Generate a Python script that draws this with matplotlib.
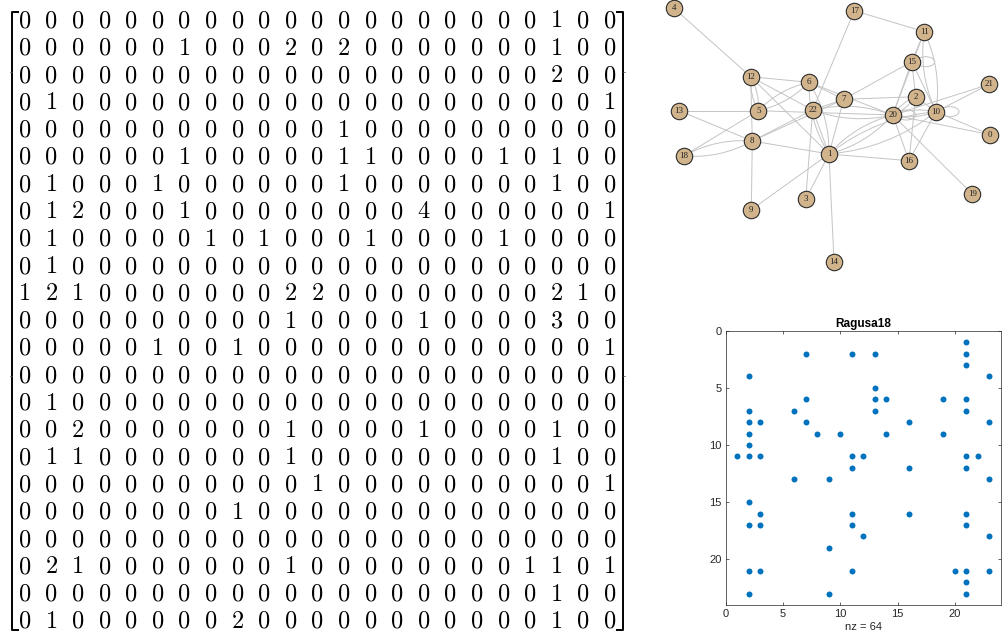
import numpy as np
import matplotlib.pyplot as plt
from matplotlib.patches import Ellipse, FancyArrowPatch

# Ragusa18 adjacency matrix (23 x 23, weighted, directed)
adjacency = [
    [0, 0, 0, 0, 0, 0, 0, 0, 0, 0, 0, 0, 0, 0, 0, 0, 0, 0, 0, 0, 1, 0, 0],
    [0, 0, 0, 0, 0, 0, 1, 0, 0, 0, 2, 0, 2, 0, 0, 0, 0, 0, 0, 0, 1, 0, 0],
    [0, 0, 0, 0, 0, 0, 0, 0, 0, 0, 0, 0, 0, 0, 0, 0, 0, 0, 0, 0, 2, 0, 0],
    [0, 1, 0, 0, 0, 0, 0, 0, 0, 0, 0, 0, 0, 0, 0, 0, 0, 0, 0, 0, 0, 0, 1],
    [0, 0, 0, 0, 0, 0, 0, 0, 0, 0, 0, 0, 1, 0, 0, 0, 0, 0, 0, 0, 0, 0, 0],
    [0, 0, 0, 0, 0, 0, 1, 0, 0, 0, 0, 0, 1, 1, 0, 0, 0, 0, 1, 0, 1, 0, 0],
    [0, 1, 0, 0, 0, 1, 0, 0, 0, 0, 0, 0, 1, 0, 0, 0, 0, 0, 0, 0, 1, 0, 0],
    [0, 1, 2, 0, 0, 0, 1, 0, 0, 0, 0, 0, 0, 0, 0, 4, 0, 0, 0, 0, 0, 0, 1],
    [0, 1, 0, 0, 0, 0, 0, 1, 0, 1, 0, 0, 0, 1, 0, 0, 0, 0, 1, 0, 0, 0, 0],
    [0, 1, 0, 0, 0, 0, 0, 0, 0, 0, 0, 0, 0, 0, 0, 0, 0, 0, 0, 0, 0, 0, 0],
    [1, 2, 1, 0, 0, 0, 0, 0, 0, 0, 2, 2, 0, 0, 0, 0, 0, 0, 0, 0, 2, 1, 0],
    [0, 0, 0, 0, 0, 0, 0, 0, 0, 0, 1, 0, 0, 0, 0, 1, 0, 0, 0, 0, 3, 0, 0],
    [0, 0, 0, 0, 0, 1, 0, 0, 1, 0, 0, 0, 0, 0, 0, 0, 0, 0, 0, 0, 0, 0, 1],
    [0, 0, 0, 0, 0, 0, 0, 0, 0, 0, 0, 0, 0, 0, 0, 0, 0, 0, 0, 0, 0, 0, 0],
    [0, 1, 0, 0, 0, 0, 0, 0, 0, 0, 0, 0, 0, 0, 0, 0, 0, 0, 0, 0, 0, 0, 0],
    [0, 0, 2, 0, 0, 0, 0, 0, 0, 0, 1, 0, 0, 0, 0, 1, 0, 0, 0, 0, 1, 0, 0],
    [0, 1, 1, 0, 0, 0, 0, 0, 0, 0, 1, 0, 0, 0, 0, 0, 0, 0, 0, 0, 1, 0, 0],
    [0, 0, 0, 0, 0, 0, 0, 0, 0, 0, 0, 1, 0, 0, 0, 0, 0, 0, 0, 0, 0, 0, 1],
    [0, 0, 0, 0, 0, 0, 0, 0, 1, 0, 0, 0, 0, 0, 0, 0, 0, 0, 0, 0, 0, 0, 0],
    [0, 0, 0, 0, 0, 0, 0, 0, 0, 0, 0, 0, 0, 0, 0, 0, 0, 0, 0, 0, 0, 0, 0],
    [0, 2, 1, 0, 0, 0, 0, 0, 0, 0, 1, 0, 0, 0, 0, 0, 0, 0, 0, 1, 1, 0, 1],
    [0, 0, 0, 0, 0, 0, 0, 0, 0, 0, 0, 0, 0, 0, 0, 0, 0, 0, 0, 0, 1, 0, 0],
    [0, 1, 0, 0, 0, 0, 0, 0, 2, 0, 0, 0, 0, 0, 0, 0, 0, 0, 0, 0, 1, 0, 0],
]

# graph layout, one (x, y) per vertex 0..22
node_x = [330.3, 169.0, 255.7, 145.7, 14.0, 98.3, 149.0, 183.7, 92.3, 91.3, 276.0, 264.3,
          90.7, 19.0, 174.0, 251.7, 249.0, 194.3, 23.7, 312.3, 232.7, 329.3, 152.7]
node_y = [134.7, 154.0, 96.7, 199.3, 8.3, 110.7, 82.3, 99.3, 141.0, 209.7, 111.7, 31.7,
          76.7, 110.7, 261.7, 61.7, 160.7, 10.7, 156.0, 194.0, 115.0, 84.3, 110.0]

A = np.array(adjacency)
n = A.shape[0]
W, H = 1003, 641

fig = plt.figure(figsize=(W / 100, H / 100), dpi=100)


def px_axes(x0, y0, x1, y1):
    return fig.add_axes([x0 / W, 1 - y1 / H, (x1 - x0) / W, (y1 - y0) / H])


# --- matrix typeset as a bracketed array ---
ax_m = px_axes(11.7, 5.85, 623.3, 633.65)
ax_m.set_xlim(0.5, n + 0.5)
ax_m.set_ylim(n + 0.5, 0.5)
ax_m.axis("off")
for r in range(n):
    for c in range(n):
        ax_m.text(c + 1, r + 1.29, str(A[r, c]), ha="center", va="baseline",
                  fontsize=17.5, family="cmr10", color="black")

top, bot = 0.72, 23.36
lx, rx, hook = 0.51, 23.49, 0.27
bk = dict(color="black", lw=1.4, clip_on=False, solid_capstyle="butt")
ax_m.plot([lx + hook, lx, lx, lx + hook], [top, top, bot, bot], **bk)
ax_m.plot([rx - hook, rx, rx, rx - hook], [top, top, bot, bot], **bk)
for yy in (2.92, 14.05):
    ax_m.plot([lx - 0.09, lx], [yy, yy], color="#555555", lw=0.5, clip_on=False)
    ax_m.plot([rx, rx + 0.09], [yy, yy], color="#555555", lw=0.5, clip_on=False)

# --- network drawing ---
ax_g = px_axes(660, 0, 1003, 275)
ax_g.set_xlim(0, 343)
ax_g.set_ylim(275, 0)
ax_g.axis("off")
edge_col = "#c4c4c4"
src, dst = np.nonzero(A)
for i, j in zip(src, dst):
    if i == j:
        ax_g.add_patch(Ellipse((node_x[i] + 14, node_y[i]), 18, 10, fill=False,
                               ec=edge_col, lw=0.7, zorder=1))
    elif A[j, i] > 0:
        ax_g.add_patch(FancyArrowPatch((node_x[i], node_y[i]), (node_x[j], node_y[j]),
                                       arrowstyle="-", connectionstyle="arc3,rad=0.15",
                                       color=edge_col, lw=0.7, shrinkA=0, shrinkB=0,
                                       zorder=1))
    else:
        ax_g.plot([node_x[i], node_x[j]], [node_y[i], node_y[j]],
                  color=edge_col, lw=0.7, zorder=1)
ax_g.scatter(node_x, node_y, s=140, c="#d2b48c", edgecolors="#2b2b2b",
             linewidths=0.8, zorder=3)
for k in range(n):
    ax_g.text(node_x[k], node_y[k], str(k), ha="center", va="center",
              fontsize=6.5, family="Liberation Serif", color="#222222", zorder=4)

# --- sparsity pattern ---
ax_s = px_axes(725.7, 330.7, 1000.7, 605)
rows, cols = np.nonzero(A)
ax_s.plot(cols + 1, rows + 1, "o", color="#0072bd", ms=4.3, mec="none")
ax_s.set_xlim(0, n + 1)
ax_s.set_ylim(n + 1, 0)
ax_s.set_xticks(range(0, n, 5))
ax_s.set_yticks(range(0, n, 5))
ax_s.tick_params(direction="in", top=True, right=True, length=2.5, width=0.5,
                 labelsize=8, colors="#262626", pad=3)
for lab in ax_s.get_xticklabels() + ax_s.get_yticklabels():
    lab.set_family("Liberation Sans")
for sp in ax_s.spines.values():
    sp.set_linewidth(0.5)
    sp.set_color("#262626")
ax_s.set_title("Ragusa18", fontsize=8.5, fontweight="bold", family="Liberation Sans",
               color="black", pad=3)
ax_s.set_xlabel(f"nz = {len(rows)}", fontsize=8, family="Liberation Sans",
                color="#262626", labelpad=2)

fig.savefig("out.png", dpi=100)
